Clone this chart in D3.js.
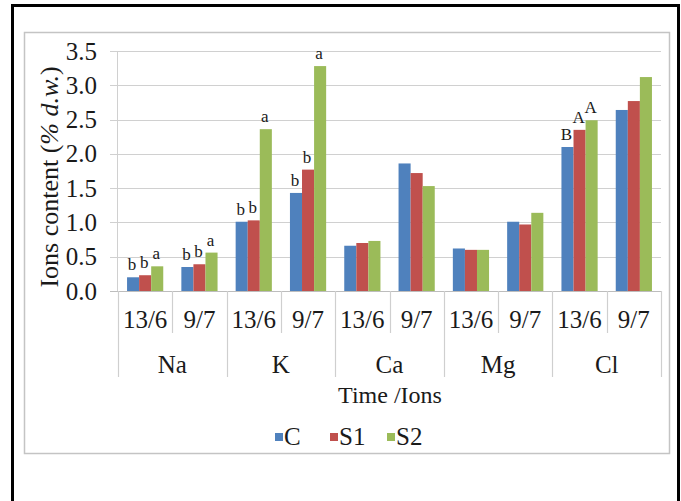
<!DOCTYPE html>
<html>
<head>
<meta charset="utf-8">
<style>
  body { margin: 0; background: #fff; }
  text { font-family: "Liberation Serif", "Times New Roman", serif; fill: #1a1a1a; }
</style>
</head>
<body>
<div id="container"></div>
<script src="https://d3js.org/d3.v7.min.js"></script>
<script>
// data
var ions = ["Na", "K", "Ca", "Mg", "Cl"];
var dates = ["13/6", "9/7"];
var series = ["C", "S1", "S2"];
var colors = ["#4f81bd", "#c0504d", "#9bbb59"];

// one value per ion x date, in order Na 13/6, Na 9/7, K 13/6 ...
var valuesC  = [0.20, 0.35, 1.01, 1.43, 0.66, 1.86, 0.62, 1.01, 2.10, 2.64];
var valuesS1 = [0.23, 0.39, 1.03, 1.77, 0.70, 1.72, 0.60, 0.97, 2.35, 2.77];
var valuesS2 = [0.36, 0.56, 2.36, 3.28, 0.73, 1.53, 0.60, 1.14, 2.49, 3.12];

// significance letters (same order), "" = none
var lettersC  = ["b", "b", "b", "b", "", "", "", "", "B", ""];
var lettersS1 = ["b", "b", "b", "b", "", "", "", "", "A", ""];
var lettersS2 = ["a", "a", "a", "a", "", "", "", "", "A", ""];

var yTicks = [0, 0.5, 1, 1.5, 2, 2.5, 3, 3.5];

var W = 681, H = 501;
var plotL = 118, plotR = 661, plotT = 51, plotB = 291;

var svg = d3.select("#container").append("svg")
  .attr("width", W).attr("height", H);

svg.append("rect").attr("width", W).attr("height", H).attr("fill", "#fff");

// outer black frame and the chart area box
svg.append("rect")
  .attr("x", 12.5).attr("y", 5.5).attr("width", 666).attr("height", 510)
  .attr("fill", "none").attr("stroke", "#000").attr("stroke-width", 3);
svg.append("rect")
  .attr("x", 24.5).attr("y", 32.5).attr("width", 645).attr("height", 421)
  .attr("fill", "none").attr("stroke", "#c4c4c4").attr("stroke-width", 1.5);

var y = d3.scaleLinear().domain([0, 3.5]).range([plotB, plotT]);
var x0 = d3.scaleBand().domain(ions).range([plotL, plotR]);
var x1 = d3.scaleBand().domain(dates).range([0, x0.bandwidth()]);
var x2 = d3.scaleBand().domain(series).range([0, x1.bandwidth()])
  .paddingInner(0).paddingOuter(0.75);

// gridlines + ticks
svg.append("g").selectAll("line").data(yTicks).enter().append("line")
  .attr("x1", plotL - 8).attr("x2", plotR)
  .attr("y1", function(d) { return Math.round(y(d)) + 0.5; })
  .attr("y2", function(d) { return Math.round(y(d)) + 0.5; })
  .attr("stroke", function(d) { return d === 0 ? "#bdbdbd" : "#d0d0d0"; })
  .attr("stroke-width", 1.2);

svg.append("line")
  .attr("x1", plotL - 0.5).attr("x2", plotL - 0.5)
  .attr("y1", y(3.5)).attr("y2", plotB)
  .attr("stroke", "#d0d0d0");

svg.append("g").selectAll("text").data(yTicks).enter().append("text")
  .attr("x", 97).attr("y", function(d) { return y(d); })
  .attr("dy", "0.34em")
  .attr("text-anchor", "end")
  .style("font-size", "25px")
  .text(function(d) { return d.toFixed(1); });

// y title
var yt = svg.append("text")
  .attr("transform", "rotate(-90)")
  .attr("x", -177).attr("y", 58)
  .attr("text-anchor", "middle")
  .style("font-size", "26px");
yt.append("tspan").text("Ions content (");
yt.append("tspan").style("font-style", "italic").text("% d.w.");
yt.append("tspan").text(")");

// bars
var rows = [];
ions.forEach(function(ion, i) {
  dates.forEach(function(dt, j) {
    var k = i * dates.length + j;
    rows.push({ ion: ion, date: dt, vals: [valuesC[k], valuesS1[k], valuesS2[k]],
                lets: [lettersC[k], lettersS1[k], lettersS2[k]] });
  });
});

var groups = svg.append("g").selectAll("g").data(rows).enter().append("g")
  .attr("transform", function(d) { return "translate(" + (x0(d.ion) + x1(d.date)) + ",0)"; });

groups.selectAll("rect")
  .data(function(d) { return series.map(function(s, m) { return { s: s, v: d.vals[m], c: colors[m] }; }); })
  .enter().append("rect")
  .attr("x", function(d) { return x2(d.s); })
  .attr("width", x2.bandwidth())
  .attr("y", function(d) { return y(d.v); })
  .attr("height", function(d) { return plotB - y(d.v); })
  .attr("fill", function(d) { return d.c; });

groups.selectAll("text.lt")
  .data(function(d) { return series.map(function(s, m) { return { s: s, v: d.vals[m], t: d.lets[m] }; }); })
  .enter().append("text")
  .attr("class", "lt")
  .attr("x", function(d) { return x2(d.s) + x2.bandwidth() / 2 - 1; })
  .attr("y", function(d) { return y(d.v) - 7; })
  .attr("text-anchor", "middle")
  .style("font-size", "17px")
  .text(function(d) { return d.t; });

// category dividers (two levels)
var gridC = "#cfcfcf";
var ionEdges = ions.map(function(d) { return x0(d); }).concat([plotR]);
svg.append("g").selectAll("line").data(ionEdges).enter().append("line")
  .attr("x1", function(d) { return Math.round(d) + 0.5; })
  .attr("x2", function(d) { return Math.round(d) + 0.5; })
  .attr("y1", plotB).attr("y2", 377)
  .attr("stroke", gridC).attr("stroke-width", 1.2);
svg.append("g").selectAll("line").data(ions).enter().append("line")
  .attr("x1", function(d) { return Math.round(x0(d) + x1(dates[1])) + 0.5; })
  .attr("x2", function(d) { return Math.round(x0(d) + x1(dates[1])) + 0.5; })
  .attr("y1", plotB).attr("y2", 333)
  .attr("stroke", gridC).attr("stroke-width", 1.2);

// date labels
svg.append("g").selectAll("text").data(rows).enter().append("text")
  .attr("x", function(d) { return x0(d.ion) + x1(d.date) + x1.bandwidth() / 2; })
  .attr("y", 328)
  .attr("text-anchor", "middle")
  .style("font-size", "25px")
  .text(function(d) { return d.date; });

// ion labels
svg.append("g").selectAll("text").data(ions).enter().append("text")
  .attr("x", function(d) { return x0(d) + x0.bandwidth() / 2; })
  .attr("y", 373)
  .attr("text-anchor", "middle")
  .style("font-size", "25px")
  .text(function(d) { return d; });

svg.append("text")
  .attr("x", 390).attr("y", 403)
  .attr("text-anchor", "middle")
  .style("font-size", "24px")
  .text("Time /Ions");

// legend
var legX = [275, 330, 387];
var leg = svg.append("g").selectAll("g").data(series).enter().append("g")
  .attr("transform", function(d, i) { return "translate(" + legX[i] + ",437)"; });
leg.append("rect").attr("x", 0).attr("y", -4).attr("width", 8).attr("height", 8)
  .attr("fill", function(d, i) { return colors[i]; });
leg.append("text").attr("x", 9).attr("y", 8)
  .style("font-size", "25px")
  .text(function(d) { return d; });
</script>
</body>
</html>
